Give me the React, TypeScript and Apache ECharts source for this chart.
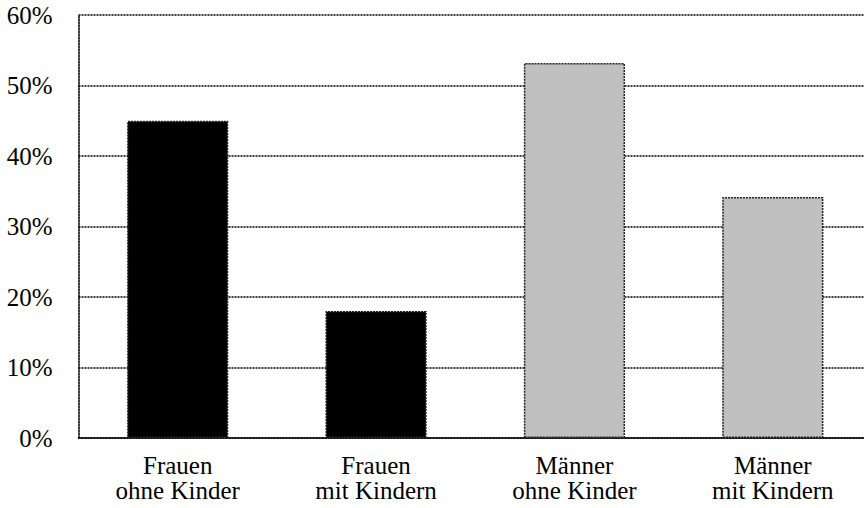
import React, { useEffect, useRef } from "react";
import * as echarts from "echarts";

const categories = ["Frauen\nohne Kinder", "Frauen\nmit Kindern", "Männer\nohne Kinder", "Männer\nmit Kindern"];
const values = [45, 18, 53.2, 34.2];
const yTicks = [0, 10, 20, 30, 40, 50, 60];

const barColors = ["#000000", "#000000", "#c0c0c0", "#c0c0c0"];
const FONT = "'Liberation Serif', 'Times New Roman', serif";

export default function App() {
  const ref = useRef<HTMLDivElement>(null);
  useEffect(() => {
    if (!ref.current) return;
    const chart = echarts.init(ref.current, undefined, { renderer: "svg" });
    chart.setOption({
      animation: false,
      backgroundColor: "#ffffff",
      grid: { left: 78.5, top: 15, bottom: 70, right: 0, containLabel: false },
      xAxis: {
        type: "category",
        data: categories,
        axisLine: { show: true, lineStyle: { color: "#000", type: [2, 1], width: 1.5 } },
        axisTick: { show: false },
        axisLabel: {
          color: "#000",
          fontFamily: FONT,
          fontSize: 25,
          lineHeight: 25,
          margin: 15,
        },
        splitLine: { show: false },
      },
      yAxis: {
        type: "value",
        min: yTicks[0],
        max: yTicks[yTicks.length - 1],
        interval: 10,
        axisLine: { show: true, lineStyle: { color: "#000", type: [2, 1], width: 1.5 } },
        axisTick: { show: false },
        axisLabel: {
          color: "#000",
          fontFamily: FONT,
          fontSize: 25,
          margin: 26,
          padding: [7, 0, 0, 0],
          formatter: (v: number) => v + "%",
        },
        splitLine: { show: true, lineStyle: { color: "#000", type: [2, 1], width: 1.5 } },
      },
      series: [
        {
          type: "bar",
          barWidth: "51%",
          data: values.map((v, i) => ({
            value: v,
            itemStyle: {
              color: barColors[i],
              borderColor: "#222",
              borderWidth: 1.5,
              borderType: [2, 1],
            },
          })),
        },
      ],
    });
    return () => chart.dispose();
  }, []);
  return (
    <div style={{ position: "fixed", left: 0, top: 0, width: 864, height: 508, overflow: "hidden", background: "#fff" }}>
      <div ref={ref} style={{ position: "absolute", left: 0, top: 0, width: 872, height: 508 }} />
    </div>
  );
}
